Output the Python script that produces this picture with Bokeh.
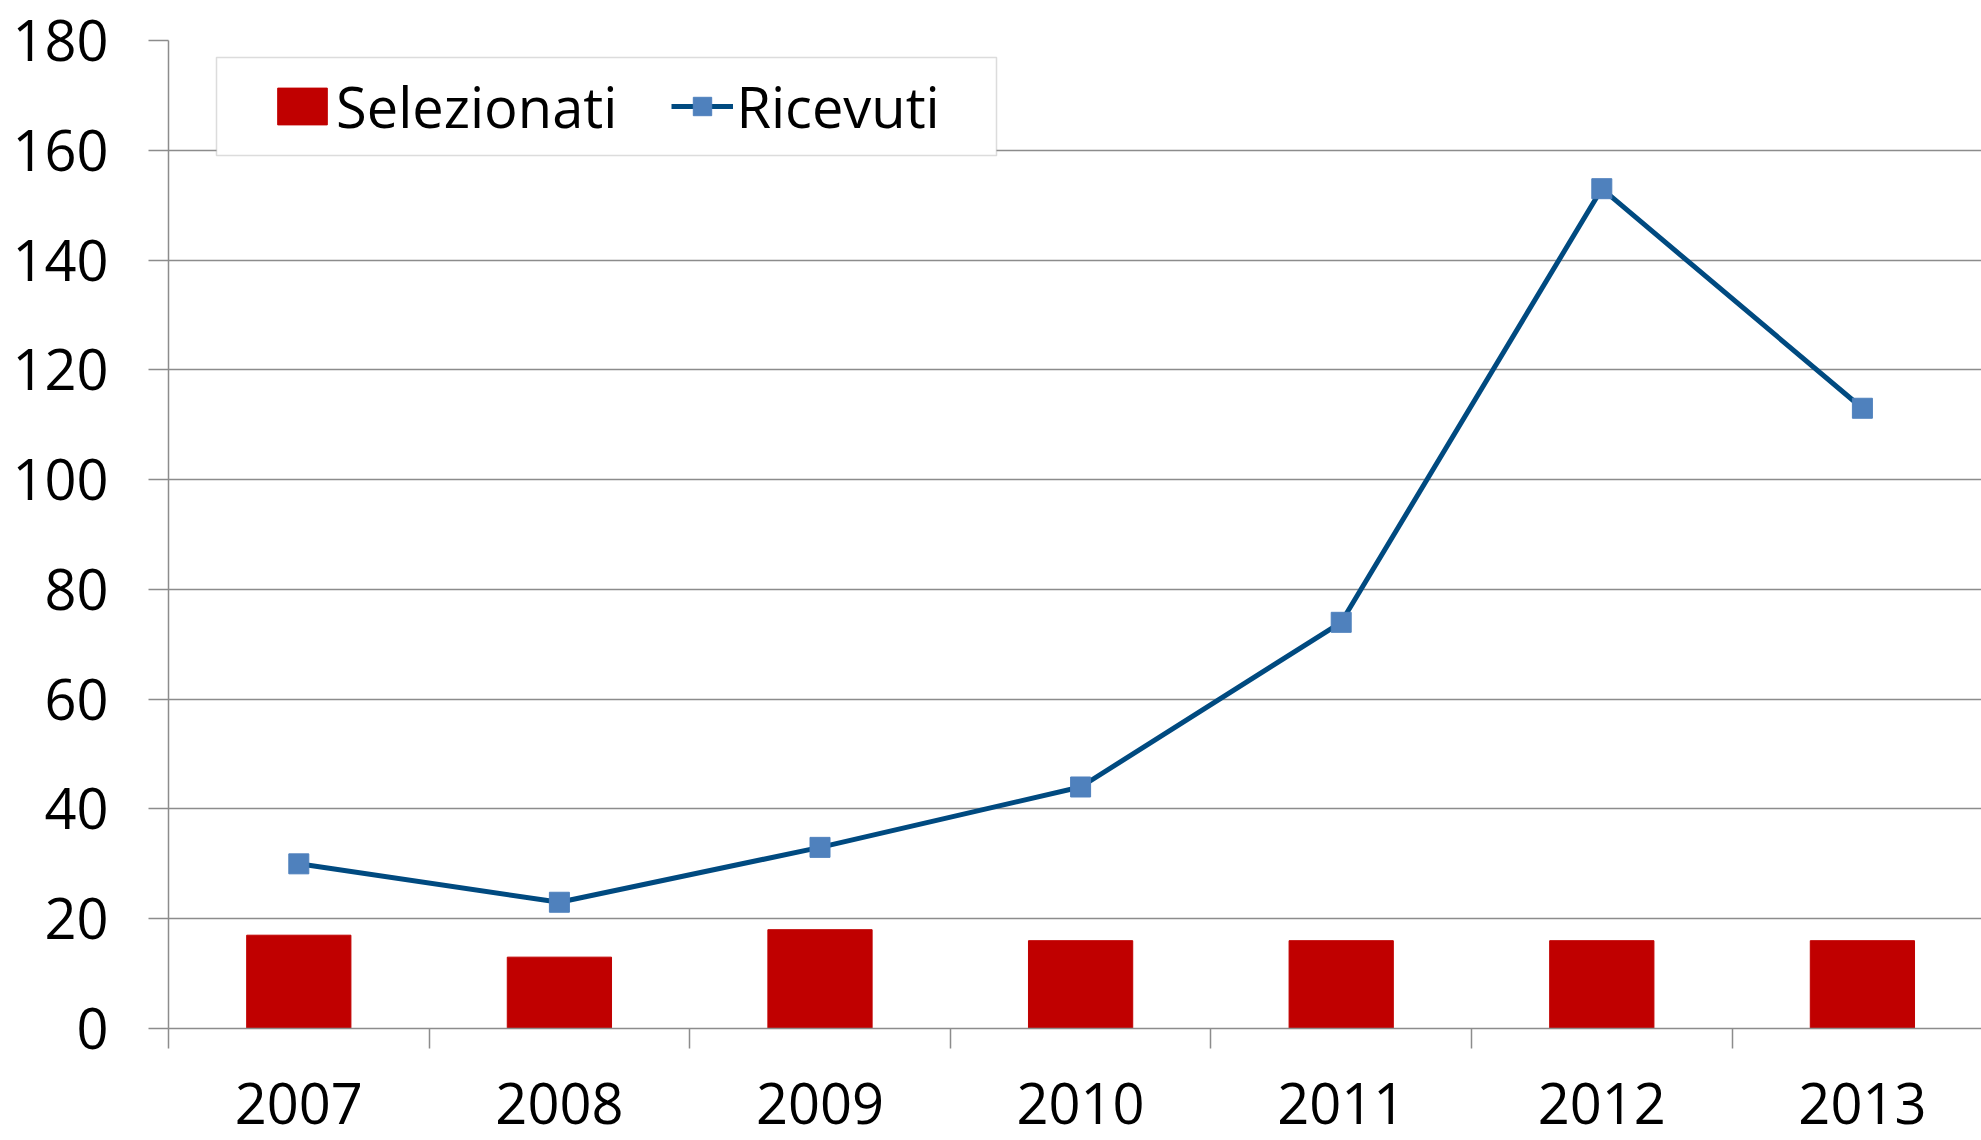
from bokeh.plotting import figure
from bokeh.models import (ColumnDataSource, Range1d, FixedTicker, Legend, LegendItem,
                          BoxAnnotation)
from bokeh.embed import file_html
from bokeh.resources import INLINE

years = ["2007", "2008", "2009", "2010", "2011", "2012", "2013"]
selezionati = [17, 13, 18, 16, 16, 16, 16]
ricevuti = [30, 23, 33, 44, 74, 153, 113]
y_ticks = [0, 20, 40, 60, 80, 100, 120, 140, 160, 180]

xs = [i + 0.5 for i in range(len(years))]
src = ColumnDataSource(dict(x=xs, sel=selezionati, ric=ricevuti, year=years))

FONT = "Open Sans"
GRID = "#8c8c8c"

p = figure(width=1981, height=1140, output_backend="svg", toolbar_location=None,
           x_range=Range1d(0, 6.957), y_range=Range1d(0, 180),
           min_border_left=168, min_border_right=0, min_border_top=40, min_border_bottom=112)
p.outline_line_color = None
p.background_fill_color = "white"

bars = p.vbar(x="x", top="sel", width=0.4, bottom=0, source=src, color="#C00000")
line = p.line(x="x", y="ric", source=src, line_color="#004A80", line_width=5)
marks = p.scatter(x="x", y="ric", source=src, marker="square", size=20,
                  fill_color="#4F81BD", line_color="#4F81BD")

# x axis: labels at category centers, tick marks at boundaries
p.xaxis.ticker = FixedTicker(ticks=xs, minor_ticks=list(range(len(years) + 1)))
p.xaxis.major_label_overrides = {x: y for x, y in zip(xs, years)}
p.xaxis.major_tick_out = 0
p.xaxis.major_tick_in = 0
p.xaxis.minor_tick_out = 20
p.xaxis.minor_tick_in = 0
p.xaxis.minor_tick_line_color = GRID
p.xaxis.minor_tick_line_width = 1.5
p.xaxis.axis_line_color = GRID
p.xaxis.axis_line_width = 1.5
p.xaxis.major_label_standoff = 34
p.xgrid.grid_line_color = None

p.yaxis.ticker = FixedTicker(ticks=y_ticks, minor_ticks=[])
p.yaxis.major_tick_out = 20
p.yaxis.major_tick_in = 0
p.yaxis.major_tick_line_color = GRID
p.yaxis.major_tick_line_width = 1.5
p.yaxis.axis_line_color = GRID
p.yaxis.axis_line_width = 1.5
p.yaxis.major_label_standoff = 40
p.ygrid.grid_line_color = GRID
p.ygrid.grid_line_width = 1.5

for ax in (p.xaxis, p.yaxis):
    ax.major_label_text_font = FONT
    ax.major_label_text_font_size = "56px"
    ax.major_label_text_color = "black"

frame = BoxAnnotation(left=48, right=828, top=971, bottom=873,
                      left_units="screen", right_units="screen",
                      top_units="screen", bottom_units="screen",
                      fill_color="white", fill_alpha=1.0,
                      line_color=GRID, line_width=1.5, level="annotation")
p.add_layout(frame)

legend = Legend(items=[LegendItem(label="Selezionati", renderers=[bars]),
                       LegendItem(label="Ricevuti", renderers=[line, marks])],
                orientation="horizontal", location=(103, 884),
                glyph_width=62, glyph_height=46,
                label_text_font=FONT, label_text_font_size="56px",
                label_text_color="black",
                label_standoff=3, spacing=54, padding=10,
                border_line_color=None, background_fill_alpha=0)
p.add_layout(legend)

open("out.html", "w").write(file_html(p, INLINE))
